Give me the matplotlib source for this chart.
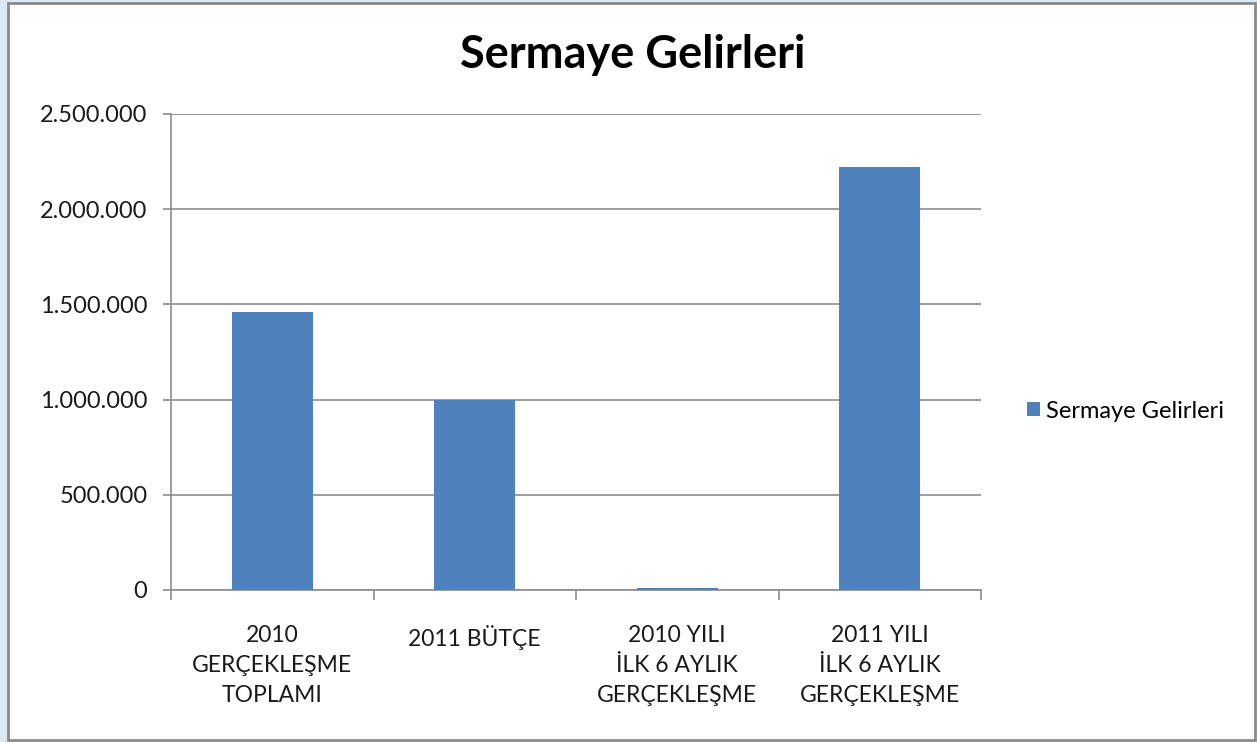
import numpy as np
import matplotlib.pyplot as plt
from matplotlib.patches import Rectangle
from matplotlib.ticker import FuncFormatter, FixedLocator

plt.rcParams['font.family'] = ['Lato', 'DejaVu Sans']

# data
categories = ['2010\nGERÇEKLEŞME\nTOPLAMI', '2011 BÜTÇE',
              '2010 YILI\nİLK 6 AYLIK\nGERÇEKLEŞME', '2011 YILI\nİLK 6 AYLIK\nGERÇEKLEŞME']
values = [1460000, 1000000, 8000, 2220000]
series_name = 'Sermaye Gelirleri'

bar_color = '#4F81BD'
grid_color = '#8C8C8C'

fig = plt.figure(figsize=(12.57, 7.42), dpi=100)
fig.patch.set_facecolor('#DCE8F2')

# white chart area with border
fig.patches.append(Rectangle((8 / 1257, 2 / 742), 1247 / 1257, 737 / 742,
                             transform=fig.transFigure, facecolor='white',
                             edgecolor='#8A8A8A', linewidth=2, zorder=-5))

ax = fig.add_axes([171 / 1257, 152 / 742, 810 / 1257, 476 / 742])
x = np.arange(len(categories))
ax.bar(x, values, width=0.4, color=bar_color, zorder=3, label=series_name)

ax.set_xlim(-0.5, len(categories) - 0.5)
ax.set_ylim(0, 2500000)
ax.set_yticks(np.arange(0, 2500001, 500000))
ax.yaxis.set_major_formatter(FuncFormatter(lambda v, p: f'{int(v):,}'.replace(',', '.')))
ax.grid(axis='y', color=grid_color, linewidth=1.2, zorder=0)

ax.set_xticks(x)
ax.set_xticklabels(categories, fontsize=16.5, color='#1a1a1a', linespacing=1.55)
ax.xaxis.set_minor_locator(FixedLocator(np.arange(-0.5, len(categories), 1)))
ax.tick_params(axis='x', which='major', length=0, pad=25)
ax.tick_params(axis='x', which='minor', length=7, color=grid_color, width=1.2)
ax.tick_params(axis='y', length=6, color=grid_color, width=1.2, labelsize=17,
               labelcolor='#1a1a1a', pad=11)

for s in ['top', 'right']:
    ax.spines[s].set_visible(False)
for s in ['left', 'bottom']:
    ax.spines[s].set_color(grid_color)
    ax.spines[s].set_linewidth(1.2)
ax.patch.set_alpha(0)

fig.text(633 / 1257, 1 - 55 / 742, 'Sermaye Gelirleri', ha='center', va='center',
         fontsize=32.5, fontweight='bold', color='black')

ax.legend(loc='center left', bbox_to_anchor=(1.045, 0.376), frameon=False,
          fontsize=17, handlelength=0.55, handleheight=0.55, handletextpad=0.25,
          borderaxespad=0)

fig.savefig('out.png', dpi=100, facecolor=fig.get_facecolor())
